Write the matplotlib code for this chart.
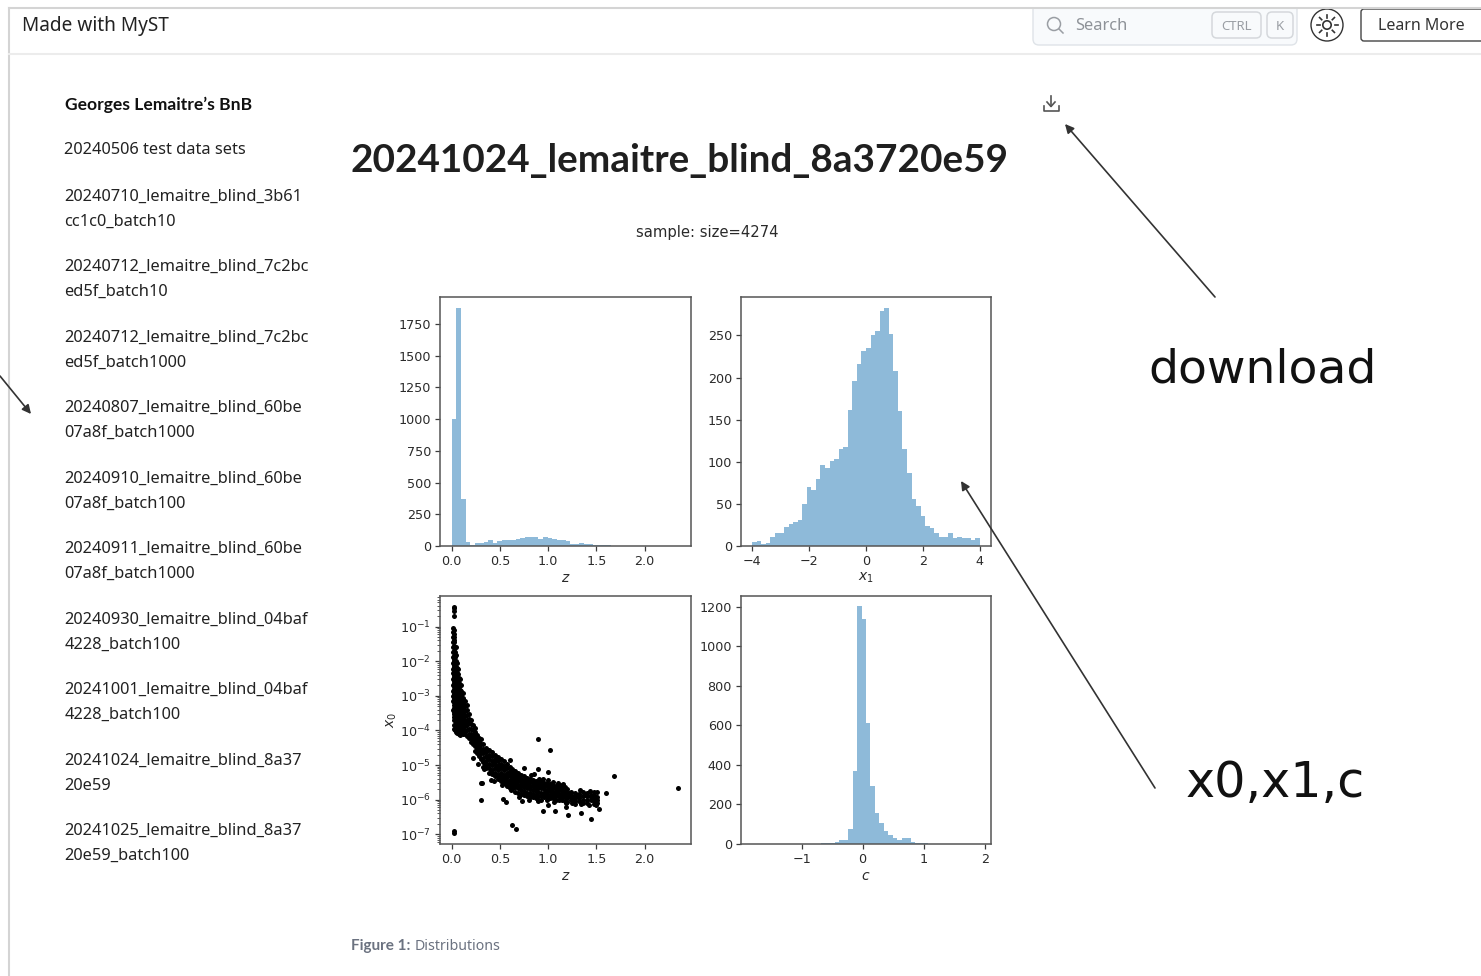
#!/usr/bin/env python3
"""Screenshot of the MyST page with the sample distributions figure."""

import matplotlib
matplotlib.use('Agg')
import matplotlib.pyplot as plt
from matplotlib.patches import FancyBboxPatch, Circle, Rectangle
import numpy as np

W, H = 1481, 976

# sidebar text
sidebar_title = "Georges Lemaitre’s BnB"
sidebar_items = [
    "20240506 test data sets",
    "20240710_lemaitre_blind_3b61", "cc1c0_batch10",
    "20240712_lemaitre_blind_7c2bc", "ed5f_batch10",
    "20240712_lemaitre_blind_7c2bc", "ed5f_batch1000",
    "20240807_lemaitre_blind_60be", "07a8f_batch1000",
    "20240910_lemaitre_blind_60be", "07a8f_batch100",
    "20240911_lemaitre_blind_60be", "07a8f_batch1000",
    "20240930_lemaitre_blind_04baf", "4228_batch100",
    "20241001_lemaitre_blind_04baf", "4228_batch100",
    "20241024_lemaitre_blind_8a37", "20e59",
    "20241025_lemaitre_blind_8a37", "20e59_batch100",
]
sidebar_y = [149, 195, 220, 265, 290, 336, 361, 406, 431, 477, 502,
             547, 572, 618, 643, 688, 713, 759, 784, 829, 854]

# histogram of z
z_counts = [1005, 1875, 370, 35, 10, 20, 25, 30, 48, 20,
            40, 45, 48, 50, 55, 60, 68, 70, 68, 55,
            70, 65, 58, 50, 45, 40, 18, 15, 20, 15,
            12, 8, 5, 4, 4, 2, 1, 1, 1, 0,
            0, 0, 0, 0, 0, 0, 0, 0, 0, 1]
z_range = (0.003, 2.363)

# histogram of x1
x1_counts = [5, 6, 2, 4, 11, 16, 15, 22, 26, 28,
             31, 50, 70, 66, 79, 96, 93, 101, 103, 115,
             117, 162, 196, 216, 232, 235, 250, 255, 279, 283,
             252, 208, 160, 115, 87, 56, 48, 36, 24, 21,
             16, 11, 11, 15, 10, 11, 9, 10, 7, 10]
x1_range = (-4.0, 4.0)

# histogram of c
c_counts = [0, 0, 0, 0, 0, 0, 0, 0, 1, 1,
            1, 2, 2, 1, 2, 3, 6, 6, 8, 18,
            22, 78, 370, 1205, 1140, 610, 295, 155, 105, 65,
            45, 28, 22, 32, 28, 12, 3, 3, 3, 2,
            2, 2, 1, 0, 0, 0, 0, 0, 0, 0]
c_range = (-1.77, 1.88)

# x0 against z, read column by column from the dense band
band_z = [0.01, 0.02, 0.03, 0.04, 0.05, 0.06, 0.07, 0.08, 0.09, 0.10,
          0.12, 0.14, 0.16, 0.18, 0.20, 0.22, 0.24, 0.26, 0.28, 0.30,
          0.33, 0.36, 0.39, 0.42, 0.45, 0.48, 0.51, 0.54, 0.57, 0.60,
          0.63, 0.66, 0.69, 0.72, 0.75, 0.78, 0.81, 0.84, 0.87, 0.90,
          0.93, 0.96, 0.99, 1.02, 1.05, 1.08, 1.11, 1.14, 1.17, 1.20,
          1.24, 1.28, 1.32, 1.36, 1.40, 1.44, 1.48, 1.51]
band_x0 = [
    [9e-2, 7e-2, 5e-2, 3.5e-2, 2.5e-2, 1.8e-2, 1.3e-2, 9e-3, 6e-3, 4.5e-3, 3e-3, 2e-3, 1.4e-3, 1e-3, 7e-4, 4e-4],
    [8e-2, 6e-2, 4e-2, 2.8e-2, 2e-2, 1.4e-2, 1e-2, 7e-3, 5e-3, 3.5e-3, 2.4e-3, 1.6e-3, 1.1e-3, 8e-4, 5.5e-4, 3.5e-4, 2.4e-4],
    [5e-2, 3.5e-2, 2.5e-2, 1.8e-2, 1.2e-2, 8e-3, 5.5e-3, 4e-3, 2.7e-3, 1.9e-3, 1.3e-3, 9e-4, 6.5e-4, 4.5e-4, 3e-4, 2e-4, 1.4e-4, 1.1e-4],
    [2.6e-2, 1.9e-2, 1.3e-2, 9e-3, 6.5e-3, 4.5e-3, 3.2e-3, 2.2e-3, 1.6e-3, 1.1e-3, 8e-4, 5.5e-4, 4e-4, 2.8e-4, 2e-4, 1.4e-4, 1e-4],
    [2.5e-2, 1.5e-2, 1e-2, 7e-3, 5e-3, 3.5e-3, 2.5e-3, 1.8e-3, 1.3e-3, 9e-4, 6.5e-4, 4.5e-4, 3.2e-4, 2.3e-4, 1.6e-4, 1.1e-4, 9e-5],
    [9e-3, 6.5e-3, 4.5e-3, 3.2e-3, 2.3e-3, 1.6e-3, 1.1e-3, 8e-4, 5.5e-4, 4e-4, 2.8e-4, 2e-4, 1.4e-4, 1e-4, 8.5e-5],
    [6e-3, 4.2e-3, 3e-3, 2.1e-3, 1.5e-3, 1e-3, 7.5e-4, 5.2e-4, 3.7e-4, 2.6e-4, 1.9e-4, 1.3e-4, 9.5e-5],
    [3.2e-3, 2.3e-3, 1.6e-3, 1.2e-3, 8.5e-4, 6e-4, 4.2e-4, 3e-4, 2.1e-4, 1.5e-4, 1.1e-4, 8e-5],
    [3e-3, 2.1e-3, 1.5e-3, 1.1e-3, 7.5e-4, 5.3e-4, 3.8e-4, 2.7e-4, 1.9e-4, 1.4e-4, 1e-4, 7.5e-5],
    [2e-3, 1.4e-3, 1e-3, 7e-4, 5e-4, 3.6e-4, 2.6e-4, 1.9e-4, 1.3e-4, 9.5e-5],
    [1.2e-3, 8.5e-4, 6e-4, 4.3e-4, 3e-4, 2.2e-4, 1.6e-4, 1.1e-4, 8e-5],
    [7e-4, 5e-4, 3.6e-4, 2.6e-4, 1.8e-4, 1.3e-4, 9.5e-5, 8e-5],
    [5.5e-4, 4e-4, 2.8e-4, 2e-4, 1.4e-4, 1e-4, 7e-5],
    [3e-4, 2.2e-4, 1.6e-4, 1.1e-4, 8e-5, 6e-5],
    [2e-4, 1.5e-4, 1.1e-4, 8e-5, 6e-5, 4.5e-5],
    [1.4e-4, 1e-4, 7.5e-5, 5.5e-5, 4e-5],
    [1.2e-4, 9e-5, 6.5e-5, 4.8e-5, 3.5e-5, 2.6e-5],
    [7.5e-5, 5.5e-5, 4e-5, 3e-5, 2.2e-5],
    [6e-5, 4.5e-5, 3.3e-5, 2.4e-5, 1.8e-5],
    [5.5e-5, 4e-5, 3e-5, 2.2e-5, 1.5e-5],
    [4e-5, 3e-5, 2.2e-5, 1.6e-5, 1.2e-5, 9e-6],
    [3.2e-5, 2.4e-5, 1.8e-5, 1.3e-5, 1e-5, 8e-6],
    [2.8e-5, 2e-5, 1.5e-5, 1.1e-5, 8e-6, 6e-6],
    [2.4e-5, 1.8e-5, 1.3e-5, 1e-5, 7e-6, 5.5e-6],
    [2e-5, 1.5e-5, 1.1e-5, 8e-6, 6e-6, 4.8e-6],
    [1.7e-5, 1.3e-5, 9.5e-6, 7e-6, 5.2e-6, 4e-6],
    [1.5e-5, 1.1e-5, 8e-6, 6e-6, 4.5e-6, 3.5e-6],
    [1.3e-5, 9.5e-6, 7e-6, 5.2e-6, 4e-6, 3e-6],
    [1.1e-5, 8e-6, 6e-6, 4.5e-6, 3.4e-6, 2.6e-6],
    [9e-6, 6.8e-6, 5e-6, 3.8e-6, 2.9e-6, 2.2e-6],
    [7.5e-6, 5.8e-6, 4.4e-6, 3.4e-6, 2.6e-6, 2e-6],
    [6.5e-6, 5e-6, 3.9e-6, 3e-6, 2.3e-6, 1.7e-6],
    [6e-6, 4.6e-6, 3.5e-6, 2.7e-6, 2.1e-6, 1.6e-6],
    [5.2e-6, 4e-6, 3.2e-6, 2.5e-6, 1.9e-6, 1.5e-6],
    [4.8e-6, 3.7e-6, 2.9e-6, 2.3e-6, 1.8e-6, 1.4e-6],
    [4.3e-6, 3.4e-6, 2.7e-6, 2.1e-6, 1.6e-6, 1.3e-6],
    [4e-6, 3.2e-6, 2.5e-6, 2e-6, 1.6e-6, 1.2e-6],
    [3.8e-6, 3e-6, 2.4e-6, 1.9e-6, 1.5e-6, 1.2e-6],
    [3.5e-6, 2.8e-6, 2.2e-6, 1.8e-6, 1.4e-6, 1.1e-6],
    [3.3e-6, 2.7e-6, 2.1e-6, 1.7e-6, 1.3e-6, 1e-6],
    [3.2e-6, 2.6e-6, 2.1e-6, 1.6e-6, 1.3e-6, 1e-6],
    [3e-6, 2.4e-6, 2e-6, 1.6e-6, 1.2e-6],
    [3e-6, 2.4e-6, 1.9e-6, 1.5e-6, 1.2e-6, 9.5e-7],
    [2.8e-6, 2.2e-6, 1.8e-6, 1.4e-6, 1.1e-6],
    [2.6e-6, 2.1e-6, 1.7e-6, 1.4e-6, 1.1e-6],
    [2.5e-6, 2e-6, 1.6e-6, 1.3e-6, 1e-6],
    [2.3e-6, 1.9e-6, 1.5e-6, 1.3e-6, 1e-6],
    [2.2e-6, 1.8e-6, 1.5e-6, 1.2e-6, 9.5e-7],
    [2.3e-6, 1.8e-6, 1.4e-6, 1.2e-6, 9e-7],
    [2e-6, 1.6e-6, 1.3e-6, 1.1e-6, 8.5e-7],
    [1.7e-6, 1.4e-6, 1.2e-6, 1e-6],
    [1.6e-6, 1.3e-6, 1.1e-6, 9e-7, 7.5e-7],
    [1.5e-6, 1.3e-6, 1.1e-6, 9e-7],
    [1.7e-6, 1.3e-6, 1e-6, 8e-7],
    [1.6e-6, 1.3e-6, 1e-6, 8e-7],
    [1.4e-6, 1.2e-6, 1e-6],
    [1.7e-6, 1.4e-6, 1.1e-6, 9e-7, 7.5e-7],
    [1.7e-6, 1.2e-6, 1e-6, 8e-7],
]

# points that fill the band between those columns and roughen its edges
filler_z = [0.315, 0.345, 0.375, 0.405, 0.435, 0.465, 0.495, 0.525, 0.555, 0.585,
            0.615, 0.645, 0.675, 0.705, 0.735, 0.765, 0.795, 0.825, 0.855, 0.885,
            0.915, 0.945, 0.975, 1.005, 1.035, 1.065, 1.095, 1.125, 1.155, 1.185,
            1.22, 1.26, 1.30, 1.34, 1.38, 1.42, 1.46, 0.35, 0.44, 0.52, 0.62, 0.71,
            0.82, 0.91, 1.03, 1.12, 1.25, 1.33, 1.43, 1.50,
            0.75, 0.85, 0.95, 1.00, 1.05, 1.10, 1.15, 0.70, 0.80, 0.90, 1.00]
filler_x0 = [2.6e-5, 1.1e-5, 1.6e-5, 6.5e-6, 1.2e-5, 5.2e-6, 1e-5, 4e-6, 8.5e-6, 3.2e-6,
             6.2e-6, 2.4e-6, 4.6e-6, 2.5e-6, 3.4e-6, 1.6e-6, 3e-6, 1.4e-6, 2.5e-6, 1.2e-6,
             2.3e-6, 1.35e-6, 1.8e-6, 1.1e-6, 2.1e-6, 8.8e-7, 1.9e-6, 1.15e-6, 1.7e-6, 8e-7,
             1.6e-6, 1.1e-6, 1.3e-6, 7.5e-7, 1.4e-6, 7e-7, 1.25e-6, 2.6e-5, 3.4e-6, 2.7e-6, 1.9e-6, 1.35e-6,
             5e-6, 4e-6, 1.35e-6, 2.7e-6, 8e-7, 1.9e-6, 1.8e-6, 6.8e-7,
             8e-6, 5.5e-6, 4e-6, 3.8e-6, 3.3e-6, 3e-6, 2.8e-6, 1.2e-6, 1e-6, 9e-7, 7e-7]

# points standing apart from the band
outlier_z = [0.02, 0.025, 0.03, 0.02, 0.02, 0.02, 0.90, 1.02, 0.89, 1.0,
             1.68, 2.35, 1.60, 0.22, 0.27, 0.30, 0.32, 0.34, 0.30, 0.41,
             0.61, 0.53, 0.56, 0.63, 0.67, 0.95, 1.07, 1.21, 1.34, 1.44,
             1.53, 1.19, 0.73, 0.57]
outlier_x0 = [0.28, 0.35, 0.38, 0.2, 1.25e-7, 1.05e-7, 5.8e-5, 2.7e-5, 7.5e-6, 6.2e-6,
              4.8e-6, 2.2e-6, 1.6e-6, 1.6e-5, 1.1e-5, 3e-6, 3e-6, 7.5e-6, 1e-6, 3.6e-6,
              1.4e-5, 1.05e-6, 8.5e-7, 1.8e-7, 1.4e-7, 4.7e-7, 4.7e-7, 3.7e-7, 4e-7, 2.7e-7,
              5.3e-7, 6e-7, 9e-7, 2.5e-6]

TICK_COLOR = '#3c3c3c'
TEXT_COLOR = '#2a2a2a'
HIST_COLOR = 'tab:blue'
PAGE_FONT = 'Noto Sans'
BOLD_FONT = 'Lato'
LABEL_SIZE = 9.2


def axes_at(left, top, right, bottom):
    """Add an axes given by its pixel box, with y counted from the top."""
    ax = fig.add_axes([left / W, 1 - bottom / H, (right - left) / W, (bottom - top) / H])
    ax.tick_params(labelsize=LABEL_SIZE, colors=TICK_COLOR, labelcolor=TEXT_COLOR, width=0.9, pad=3)
    for spine in ax.spines.values():
        spine.set_color('#555555')
        spine.set_linewidth(1.1)
    ax.patch.set_alpha(0)
    return ax


def hist_panel(box, counts, bin_range, xlim, ylim, xlabel):
    ax = axes_at(*box)
    edges = np.linspace(bin_range[0], bin_range[1], len(counts) + 1)
    ax.stairs(counts, edges, fill=True, color=HIST_COLOR, alpha=0.5, linewidth=0)
    ax.set(xlim=xlim, ylim=ylim)
    ax.set_xlabel(xlabel, fontsize=LABEL_SIZE + 0.8, color=TEXT_COLOR, labelpad=2)
    return ax


fig = plt.figure(figsize=(W / 100, H / 100), dpi=100, facecolor='white')

# full page layer in pixel coordinates, drawn under the panels
page = fig.add_axes([0, 0, 1, 1])
page.set(xlim=(0, W), ylim=(H, 0))
page.axis('off')

page.plot([9, 9], [8, H], color='#d4d4d4', lw=1.5)
page.plot([9, W], [54, 54], color='#ececec', lw=1.5)

page.text(22, 26, 'Made with MyST', fontsize=13.7, family=PAGE_FONT, color='#222222', va='center')

# search box, key caps, theme button, Learn More
page.add_patch(FancyBboxPatch((1033, 0), 264, 45, boxstyle='round,pad=0,rounding_size=6',
                              fc='#f8fafc', ec='#dfe3e8', lw=1))
page.add_patch(Rectangle((1020, 0), 300, 8, fc='white', ec='none', zorder=2))
page.plot([9, W], [8, 8], color='#d4d4d4', lw=1.5, zorder=3)
page.add_patch(Circle((1054, 24), 6.5, fc='none', ec='#9a9ea4', lw=1.1))
page.plot([1059, 1063], [29, 33], color='#9a9ea4', lw=1.1)
page.text(1075, 26, 'Search', fontsize=11.8, family=PAGE_FONT, color='#8e9298', va='center')
page.add_patch(FancyBboxPatch((1212, 12), 49, 26, boxstyle='round,pad=0,rounding_size=5',
                              fc='#f8fafc', ec='#d5d8dc', lw=1.1))
page.text(1236, 26, 'CTRL', fontsize=9.5, family=PAGE_FONT, color='#9a9ea4', va='center', ha='center')
page.add_patch(FancyBboxPatch((1267, 12), 26, 26, boxstyle='round,pad=0,rounding_size=5',
                              fc='#f8fafc', ec='#d5d8dc', lw=1.1))
page.text(1280, 26, 'K', fontsize=9.5, family=PAGE_FONT, color='#9a9ea4', va='center', ha='center')

page.add_patch(Circle((1327, 25), 16, fc='white', ec='#333333', lw=1))
page.add_patch(Circle((1327, 25), 4.2, fc='none', ec='#333333', lw=1.2))
for angle in np.arange(0, 360, 45):
    dx, dy = np.cos(np.radians(angle)), np.sin(np.radians(angle))
    page.plot([1327 + 7.5 * dx, 1327 + 10.5 * dx], [25 + 7.5 * dy, 25 + 10.5 * dy], color='#333333', lw=1.2)

page.add_patch(FancyBboxPatch((1361, 9), 140, 32, boxstyle='round,pad=0,rounding_size=3',
                              fc='white', ec='#444444', lw=1))
page.text(1421, 26, 'Learn More', fontsize=11.5, family=PAGE_FONT, color='#333333', va='center', ha='center')

# sidebar
page.text(65, 104.5, sidebar_title, fontsize=12.6, family=BOLD_FONT, weight='bold', color='#111111', va='center')
for label, y in zip(sidebar_items, sidebar_y):
    page.text(64.5, y + 1.5, label, fontsize=11.8, family=PAGE_FONT, color='#222222', va='center')

# heading and caption
page.text(351, 161, '20241024_lemaitre_blind_8a3720e59', fontsize=27.9, family=BOLD_FONT,
          weight='bold', color='#1f1f1f', va='center')
page.text(351, 946, 'Figure 1:', fontsize=11, family=BOLD_FONT, weight='bold', color='#6b7280', va='center')
page.text(415, 947, 'Distributions', fontsize=10.2, family=PAGE_FONT, color='#6b7280', va='center')
page.text(707, 232, 'sample: size=4274', fontsize=10.6, color=TEXT_COLOR, va='center', ha='center')

# download icon
page.plot([1051, 1051], [96, 106], color='#555555', lw=1.2)
page.plot([1047, 1051, 1055], [102, 106.5, 102], color='#555555', lw=1.2)
page.plot([1043.5, 1043.5, 1059, 1059], [106, 111, 111, 106], color='#555555', lw=1.2)

# notes drawn over the screenshot
page.text(1148, 370, 'download', fontsize=34, color='#111111', va='center')
page.text(1186, 783, 'x0,x1,c', fontsize=35.5, color='#111111', va='center')

# panels
ax_z = hist_panel((440, 297, 691, 546), z_counts, z_range, (-0.12, 2.48), (0, 1963), '$z$')
ax_z.set_yticks(range(0, 2000, 250))
ax_z.set_xticks([0, 0.5, 1, 1.5, 2])

ax_x1 = hist_panel((741, 297, 991, 546), x1_counts, x1_range, (-4.39, 4.39), (0, 295.7), '$x_1$')
ax_x1.set_xticks([-4, -2, 0, 2, 4])

ax_c = hist_panel((741, 596, 991, 844), c_counts, c_range, (-1.99, 2.10), (0, 1255), '$c$')
ax_c.set_xticks([-1, 0, 1, 2])

ax_s = axes_at(440, 596, 691, 844)
for z, column in zip(band_z, band_x0):
    ax_s.plot([z] * len(column), column, 'o', color='k', ms=3.6, mew=0)
ax_s.plot(filler_z, filler_x0, 'o', color='k', ms=3.6, mew=0)
ax_s.plot(outlier_z, outlier_x0, 'o', color='k', ms=3.6, mew=0)
ax_s.set_yscale('log')
ax_s.set(xlim=(-0.12, 2.48), ylim=(5.2e-8, 0.77))
ax_s.set_xticks([0, 0.5, 1, 1.5, 2])
ax_s.set_yticks([10.0 ** e for e in range(-7, 0)])
ax_s.tick_params(which='minor', colors=TICK_COLOR, width=0.6)
ax_s.set_xlabel('$z$', fontsize=LABEL_SIZE + 0.8, color=TEXT_COLOR, labelpad=2)
ax_s.set_ylabel('$x_0$', fontsize=LABEL_SIZE + 0.8, color=TEXT_COLOR, labelpad=1)

# arrows last so that they pass over the panels
overlay = fig.add_axes([0, 0, 1, 1])
overlay.set(xlim=(0, W), ylim=(H, 0))
overlay.axis('off')
arrow_style = dict(arrowstyle='-|>', color='#333333', lw=1.2, mutation_scale=13, shrinkA=0, shrinkB=0)
overlay.annotate('', xy=(1065, 124), xytext=(1215, 297), arrowprops=arrow_style)
overlay.annotate('', xy=(961, 481), xytext=(1155, 788), arrowprops=arrow_style)
overlay.annotate('', xy=(31, 414), xytext=(0, 376), arrowprops=arrow_style)

fig.savefig('out.png', dpi=100)
plt.close()
